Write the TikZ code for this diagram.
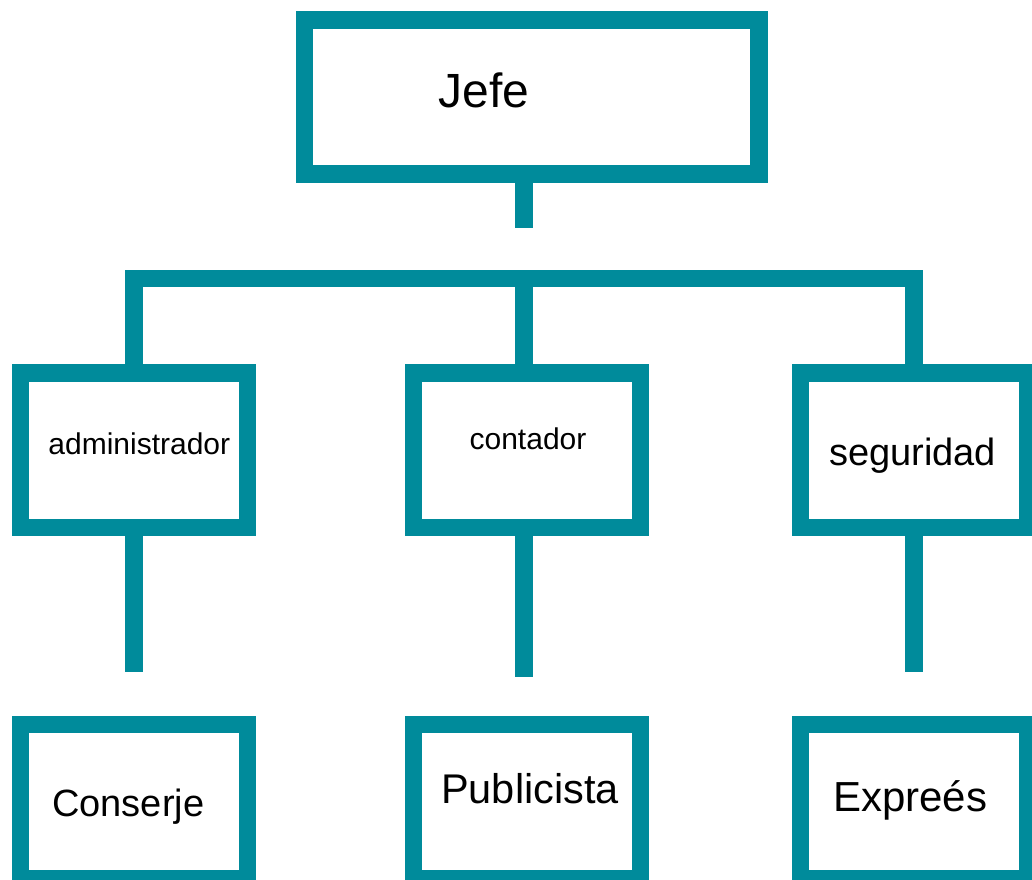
\documentclass[tikz,border=0pt]{standalone}
\usepackage{fontspec}
\setmainfont{Liberation Sans}
\definecolor{orgteal}{RGB}{0,139,155}
\begin{document}
\begin{tikzpicture}[x=1pt,y=-1pt,
  box/.style={draw=orgteal,line width=17.5pt,rectangle,inner sep=0pt,outer sep=0pt,
    minimum width=227.1pt,minimum height=154.5pt},
  conn/.style={draw=orgteal,line width=17.5pt,line join=miter,line cap=butt},
  lbl/.style={anchor=base,inner sep=0pt,text=black}]
\useasboundingbox (0,0) rectangle (1032,879);
\clip (0,0) rectangle (1032,879);
% boxes
\node[box,minimum width=454.7pt,minimum height=154.4pt] (jefe) at (531.65,97) {};
\node[box] (admin) at (133.9,450.45) {};
\node[box] (cont) at (527,450.45) {};
\node[box] (seg) at (913.95,450.45) {};
\node[box,minimum height=154.3pt] (cons) at (133.9,801.6) {};
\node[box,minimum height=154.3pt] (pub) at (527,801.6) {};
\node[box,minimum height=154.3pt] (exp) at (913.95,801.6) {};
% labels
\node[lbl,font=\fontsize{48}{58}\selectfont] (tjefe) at (484,107.3) {Jefe};
\node[lbl,font=\fontsize{30}{36}\selectfont] (tadmin) at (139.3,454) {administrador};
\node[lbl,font=\fontsize{30}{36}\selectfont] (tcont) at (528,449) {contador};
\node[lbl,font=\fontsize{38}{46}\selectfont] (tseg) at (912.7,465) {seguridad};
\node[lbl,font=\fontsize{38}{46}\selectfont] (tcons) at (128.3,816) {Conserje};
\node[lbl,font=\fontsize{41.5}{50}\selectfont] (tpub) at (530,803.3) {Publicista};
\node[lbl,font=\fontsize{42}{50}\selectfont] (texp) at (910.3,811.7) {Expreés};
% connector end points
\coordinate (j1) at (524,227.7);
\coordinate (bar) at (524,278.7);
\coordinate (a2) at (133.9,671.7);
\coordinate (c2) at (523.9,677);
\coordinate (s2) at (913.95,671.7);
% connectors
\draw[conn] (jefe.south -| j1) -- (j1);
\draw[conn] (admin.north) -- (admin.north |- bar) -- (seg.north |- bar) -- (seg.north);
\draw[conn] (cont.north -| bar) -- (bar);
\draw[conn] (admin.south) -- (a2);
\draw[conn] (cont.south -| c2) -- (c2);
\draw[conn] (seg.south) -- (s2);
\end{tikzpicture}
\end{document}
